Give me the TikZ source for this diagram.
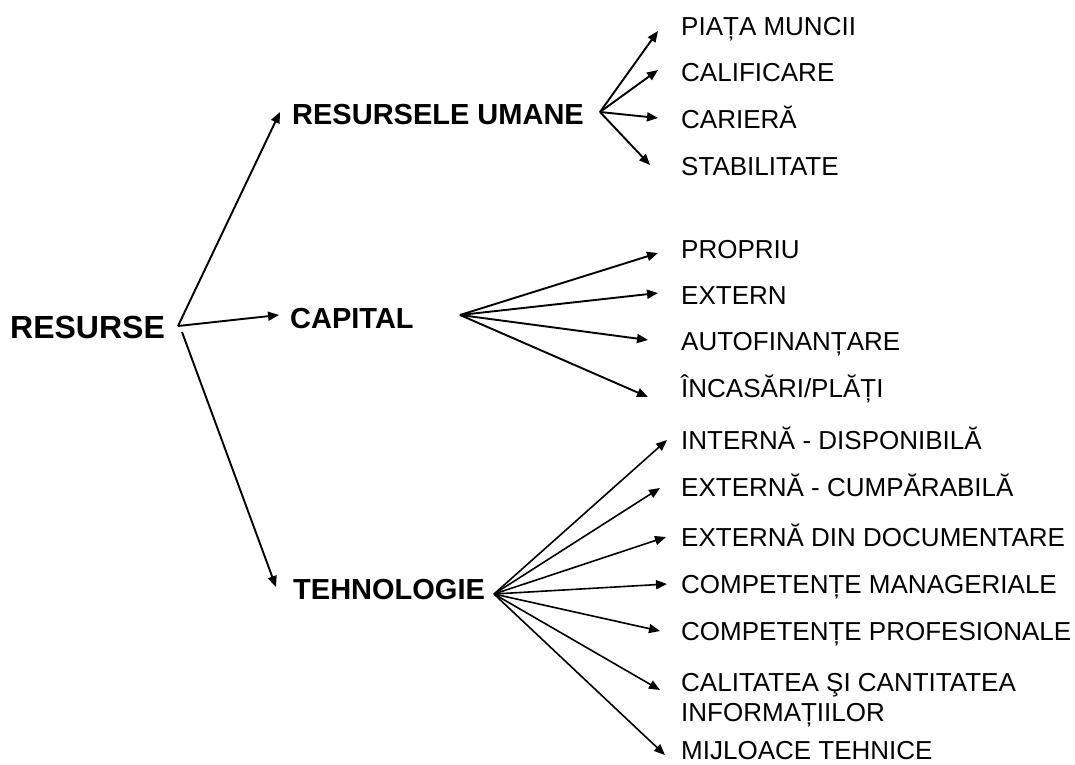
\documentclass[tikz,border=0pt]{standalone}
\usepackage{fontspec}
\setmainfont{Liberation Sans}
\usetikzlibrary{arrows.meta}
\begin{document}
\begin{tikzpicture}[x=1pt,y=-1pt,
  rootlabel/.style={inner sep=0pt,anchor=base west,font=\fontsize{32}{36}\selectfont\bfseries},
  grouplabel/.style={inner sep=0pt,anchor=base west,font=\fontsize{29}{33}\selectfont\bfseries},
  leaflabel/.style={inner sep=0pt,anchor=base west,font=\fontsize{26}{30}\selectfont},
  link/.style={line width=1.9pt,-{Triangle[length=11pt,width=9pt]}},
  thinlink/.style={line width=1.6pt,-{Triangle[length=11pt,width=9pt]}}]
\path[use as bounding box] (0,0) rectangle (1075,764);

% first level
\node[rootlabel] (res) at (10,338.5) {RESURSE};
\node[grouplabel] (uman) at (292,124.5) {RESURSELE UMANE};
\node[grouplabel] (cap) at (290,328) {CAPITAL};
\node[grouplabel] (teh) at (293,599.5) {TEHNOLOGIE};

\coordinate (resA) at (178,326);
\coordinate (resB) at (182,332);
\coordinate (umanIn) at (280,112);
\coordinate (capIn) at (279,315);
\coordinate (tehIn) at (276,587);
\draw[link] (resA) -- (umanIn);
\draw[link] (resA) -- (capIn);
\draw[link] (resB) -- (tehIn);

% human resources
\node[leaflabel] (u1) at (681,35.3) {PIAȚA MUNCII};
\node[leaflabel] (u2) at (681,81.8) {CALIFICARE};
\node[leaflabel] (u3) at (681,128.3) {CARIERĂ};
\node[leaflabel] (u4) at (681,175.3) {STABILITATE};
\coordinate (umanOut) at (600,112);
\coordinate (u1in) at (658,31);
\coordinate (u2in) at (658,70);
\coordinate (u3in) at (658,118);
\coordinate (u4in) at (650,165);
\foreach \t in {u1in,u2in,u3in,u4in} \draw[link] (umanOut) -- (\t);

% capital
\node[leaflabel] (c1) at (681,258.3) {PROPRIU};
\node[leaflabel] (c2) at (681,304.3) {EXTERN};
\node[leaflabel] (c3) at (681,350.3) {AUTOFINANȚARE};
\node[leaflabel] (c4) at (681,397.3) {ÎNCASĂRI/PLĂȚI};
\coordinate (capOut) at (460,315);
\coordinate (c1in) at (658,253);
\coordinate (c2in) at (658,293);
\coordinate (c3in) at (648,340);
\coordinate (c4in) at (648,397);
\foreach \t in {c1in,c2in,c3in,c4in} \draw[link] (capOut) -- (\t);

% technology
\node[leaflabel] (t1) at (681,449.3) {INTERNĂ - DISPONIBILĂ};
\node[leaflabel] (t2) at (681,496.3) {EXTERNĂ - CUMPĂRABILĂ};
\node[leaflabel] (t3) at (681,546.3) {EXTERNĂ DIN DOCUMENTARE};
\node[leaflabel] (t4) at (681,593.3) {COMPETENȚE MANAGERIALE};
\node[leaflabel] (t5) at (681,640.3) {COMPETENȚE PROFESIONALE};
\node[leaflabel,anchor=north west,align=left] (t6) at (681,673) {CALITATEA ŞI CANTITATEA\\INFORMAȚIILOR};
\node[leaflabel] (t7) at (681,759.5) {MIJLOACE TEHNICE};
\coordinate (tehOut) at (494,594);
\coordinate (t1in) at (667,440);
\coordinate (t2in) at (660,488);
\coordinate (t3in) at (666,537);
\coordinate (t4in) at (667,584);
\coordinate (t5in) at (660,631);
\coordinate (t6in) at (660,690);
\coordinate (t7in) at (665,755);
\foreach \t in {t1in,t2in,t3in,t4in,t5in,t6in,t7in} \draw[thinlink] (tehOut) -- (\t);
\end{tikzpicture}
\end{document}
